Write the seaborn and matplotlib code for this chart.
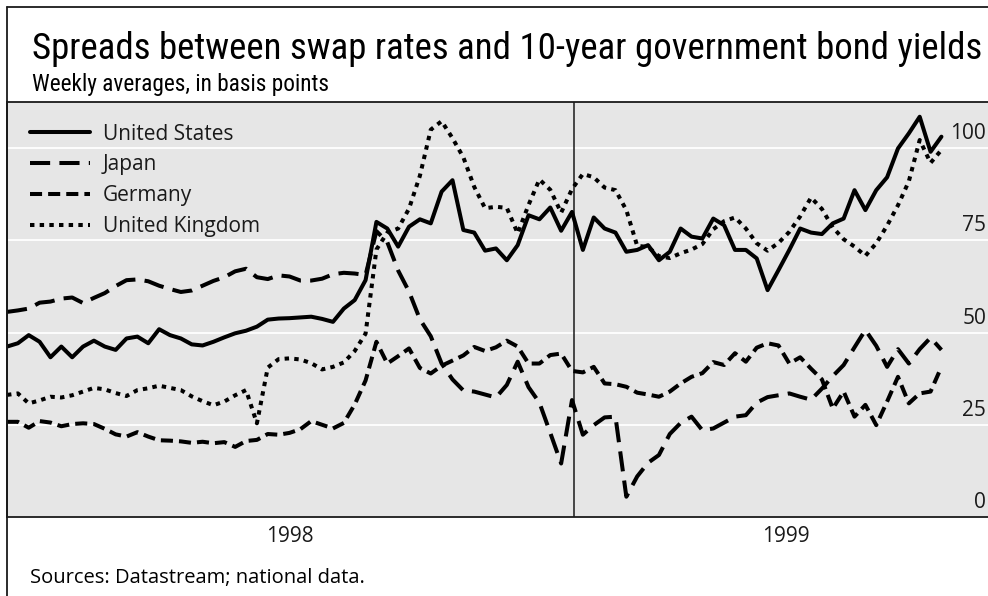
import matplotlib
matplotlib.use("Agg")
import matplotlib.pyplot as plt
import matplotlib.dates as mdates
import matplotlib.transforms as mtransforms
from matplotlib import font_manager
from matplotlib.lines import Line2D
import numpy as np
import pandas as pd
import seaborn as sns

# Series labels and weekly averages (basis points)
countries = ["United States", "Japan", "Germany", "United Kingdom"]
firstWeek = "1998-01-01"

usSpread = [46.2, 47.1, 49.3, 47.5, 43.3, 46.2, 43.3, 46.2, 47.8, 46.2,
            45.3, 48.4, 48.9, 47.1, 50.9, 49.3, 48.4, 46.8, 46.5, 47.5,
            48.7, 49.8, 50.5, 51.6, 53.5, 53.8, 53.9, 54.1, 54.3, 53.7,
            52.9, 56.5, 58.8, 64.2, 80.0, 78.2, 73.3, 78.7, 80.7, 79.6,
            88.2, 91.3, 77.8, 77.1, 72.2, 72.8, 69.6, 73.7, 81.8, 80.7,
            83.9, 77.6, 82.7, 72.4, 81.2, 78.2, 77.1, 71.9, 72.4, 73.7,
            69.6, 71.9, 78.2, 76.0, 75.5, 80.9, 79.1, 72.4, 72.4, 70.1,
            61.5, 66.9, 72.4, 78.2, 77.1, 76.7, 79.6, 80.9, 88.6, 83.2,
            88.6, 92.1, 99.9, 104.0, 108.5, 99.0, 103.1]

japanSpread = [55.6, 56.0, 56.5, 58.1, 58.4, 59.2, 59.5, 58.0, 59.4, 60.7,
               62.6, 64.2, 64.4, 63.9, 62.7, 61.8, 61.0, 61.4, 62.7, 64.0,
               65.0, 66.6, 67.3, 65.0, 64.5, 65.5, 65.2, 64.1, 64.1, 64.6,
               65.8, 66.2, 66.0, 65.6, 77.5, 74.5, 66.8, 61.1, 53.6, 49.0,
               41.6, 37.3, 34.3, 34.0, 33.2, 32.4, 35.8, 42.1, 35.2, 31.0,
               22.8, 14.5, 31.7, 22.3, 24.9, 27.0, 27.2, 5.5, 11.0, 14.7,
               16.8, 22.5, 25.5, 27.2, 23.5, 24.0, 25.6, 27.2, 27.6, 31.0,
               32.5, 33.0, 33.5, 32.6, 31.8, 34.8, 38.2, 41.2, 46.0, 50.7,
               46.4, 40.7, 45.5, 41.6, 45.5, 48.6, 45.3]

germanySpread = [25.8, 25.8, 24.2, 26.0, 25.6, 24.6, 25.2, 25.4, 25.2, 23.9,
                 22.4, 21.8, 23.0, 21.8, 20.8, 20.7, 20.5, 20.1, 20.4, 20.0,
                 20.3, 19.0, 20.6, 20.9, 22.5, 22.3, 22.8, 23.8, 26.0, 25.0,
                 24.0, 25.5, 30.5, 37.0, 47.5, 41.6, 43.6, 45.7, 40.4, 38.9,
                 41.0, 42.4, 43.8, 46.1, 45.0, 46.0, 47.8, 46.2, 41.6, 41.6,
                 43.9, 44.3, 39.6, 39.2, 40.7, 36.2, 36.0, 35.3, 33.7, 33.2,
                 32.6, 34.0, 36.2, 38.0, 39.0, 42.0, 41.2, 44.4, 42.1, 45.9,
                 47.1, 46.5, 41.6, 43.3, 40.2, 37.3, 29.4, 34.0, 27.2, 30.4,
                 24.9, 31.3, 38.0, 30.8, 33.5, 34.0, 40.7]

ukSpread = [33.1, 33.5, 30.8, 31.6, 32.6, 32.4, 33.0, 34.0, 35.0, 34.6,
            33.6, 32.8, 34.4, 34.9, 35.6, 35.0, 34.4, 32.7, 31.4, 30.3,
            31.3, 33.0, 34.4, 25.4, 40.5, 42.8, 43.0, 42.7, 41.7, 40.0,
            40.7, 41.9, 45.0, 49.7, 72.5, 77.1, 78.2, 83.6, 92.5, 105.0,
            107.3, 102.7, 97.5, 89.5, 83.7, 84.1, 83.8, 76.9, 84.6, 91.5,
            88.7, 82.5, 88.9, 93.0, 92.1, 89.3, 88.6, 83.2, 73.5, 73.2,
            70.7, 70.2, 71.5, 72.5, 74.0, 78.0, 80.2, 81.2, 78.2, 74.2,
            72.2, 74.3, 77.3, 81.5, 86.6, 83.5, 78.5, 75.3, 73.3, 70.8,
            74.2, 79.0, 84.5, 91.0, 102.2, 96.0, 99.5]

yTicks = [0, 25, 50, 75, 100]
yearLabels = ["1998", "1999"]

title = "Spreads between swap rates and 10-year government bond yields"
subtitle = "Weekly averages, in basis points"
source = "Sources: Datastream; national data."

W, H = 988, 596
INK = "#1a1a1a"
PANEL = "#e6e6e6"


def pickFont(candidates, fallback):
    available = {f.name for f in font_manager.fontManager.ttflist}
    for name in candidates:
        if name in available:
            return name
    return fallback


def fitWidth(txt, fig, targetPx):
    # scale font size so the rendered text spans the measured width
    renderer = fig.canvas.get_renderer()
    width = txt.get_window_extent(renderer).width
    txt.set_fontsize(txt.get_fontsize() * targetPx / width)


def main():
    sns.set_theme(style="white")
    narrowFont = pickFont(["Liberation Sans Narrow", "Roboto Condensed",
                           "Open Sans Condensed"], "Liberation Sans")
    bodyFont = pickFont(["Open Sans", "Lato"], "DejaVu Sans")
    plt.rcParams["font.family"] = [bodyFont, "DejaVu Sans"]

    weeks = pd.date_range(firstWeek, periods=len(usSpread), freq="7D")
    df = pd.DataFrame({
        "week": np.tile(weeks, 4),
        "spread": np.concatenate([usSpread, japanSpread, germanySpread, ukSpread]),
        "country": np.repeat(countries, len(weeks)),
    })

    fig = plt.figure(figsize=(W / 100, H / 100), dpi=100)
    fig.patch.set_facecolor("white")
    ax = fig.add_axes([7 / W, (H - 517) / H, (W - 7) / W, 415 / H])
    ax.set_facecolor(PANEL)

    dashMap = {
        "United States": "",
        "Japan": (5.0, 2.3),
        "Germany": (3.0, 1.5),
        "United Kingdom": (1.1, 1.3),
    }
    sns.lineplot(data=df, x="week", y="spread", style="country",
                 style_order=countries, dashes=dashMap, color="black",
                 linewidth=2.9, legend=False, ax=ax, zorder=3)
    seriesLines = list(ax.get_lines())

    ax.set_ylim(0, 112.5)
    ax.set_xlim(pd.Timestamp("1998-01-01"), pd.Timestamp("1999-09-25"))
    ax.set_yticks(yTicks)
    ax.yaxis.grid(True, color="white", linewidth=1.3)
    ax.xaxis.grid(False)
    ax.tick_params(axis="y", length=0, labelleft=False)
    ax.set_xlabel("")
    ax.set_ylabel("")

    # month ticks, taller at quarters
    ax.xaxis.set_major_locator(mdates.MonthLocator(bymonth=[1, 4, 7, 10]))
    ax.xaxis.set_minor_locator(mdates.MonthLocator())
    ax.tick_params(axis="x", which="major", direction="in", length=16.5,
                   width=1.1, color=INK, labelbottom=False)
    ax.tick_params(axis="x", which="minor", direction="in", length=8,
                   width=1.1, color=INK)

    for side in ["top", "bottom", "left"]:
        ax.spines[side].set_color(INK)
        ax.spines[side].set_linewidth(1.3)
    ax.spines["right"].set_visible(False)

    ax.axvline(pd.Timestamp("1999-01-01"), color=INK, linewidth=1.1, zorder=2)

    # value labels inside the panel, right-aligned above the gridlines
    labelTrans = mtransforms.offset_copy(ax.get_yaxis_transform(), fig=fig,
                                         x=-2, y=9, units="dots")
    for v in yTicks:
        ax.text(1.0, v, str(v), transform=labelTrans, ha="right",
                va="baseline", fontsize=15, color=INK, clip_on=False)

    # year labels centred on each year's span (1999 shown to end of Q3)
    yearSpans = [(pd.Timestamp("1998-01-01"), pd.Timestamp("1999-01-01")),
                 (pd.Timestamp("1999-01-01"), pd.Timestamp("1999-10-01"))]
    yearTrans = mtransforms.offset_copy(ax.get_xaxis_transform(), fig=fig,
                                        x=0, y=-19, units="dots")
    for label, (a, b) in zip(yearLabels, yearSpans):
        ax.text(a + (b - a) / 2, 0, label, transform=yearTrans, ha="center",
                va="center", fontsize=15, color=INK, clip_on=False)

    leg = ax.legend(seriesLines, countries, loc="upper left",
                    bbox_to_anchor=(23 / 981, 0.948), frameon=False,
                    fontsize=15, handlelength=2.9, handletextpad=0.6,
                    labelspacing=0.47, borderpad=0, borderaxespad=0)
    for t in leg.get_texts():
        t.set_color(INK)

    # outer frame
    fig.add_artist(Line2D([7 / W, 1], [1 - 7 / H, 1 - 7 / H],
                          transform=fig.transFigure, color=INK, linewidth=1.3))
    fig.add_artist(Line2D([7 / W, 7 / W], [0, 1 - 7 / H],
                          transform=fig.transFigure, color=INK, linewidth=1.3))

    titleText = fig.text(32 / W, 1 - 59 / H, title, family=[narrowFont, "DejaVu Sans"],
                         fontsize=26, color="black", va="baseline")
    subText = fig.text(32 / W, 1 - 91 / H, subtitle, family=[narrowFont, "DejaVu Sans"],
                       fontsize=14, color="black", va="baseline")
    srcText = fig.text(30 / W, 1 - 583 / H, source, fontsize=13, color="black",
                       va="baseline")
    fig.canvas.draw()
    fitWidth(titleText, fig, 950)
    fitWidth(subText, fig, 299)
    fitWidth(srcText, fig, 333)

    fig.savefig("out.png", dpi=100, facecolor="white")
    plt.close(fig)


if __name__ == "__main__":
    main()
